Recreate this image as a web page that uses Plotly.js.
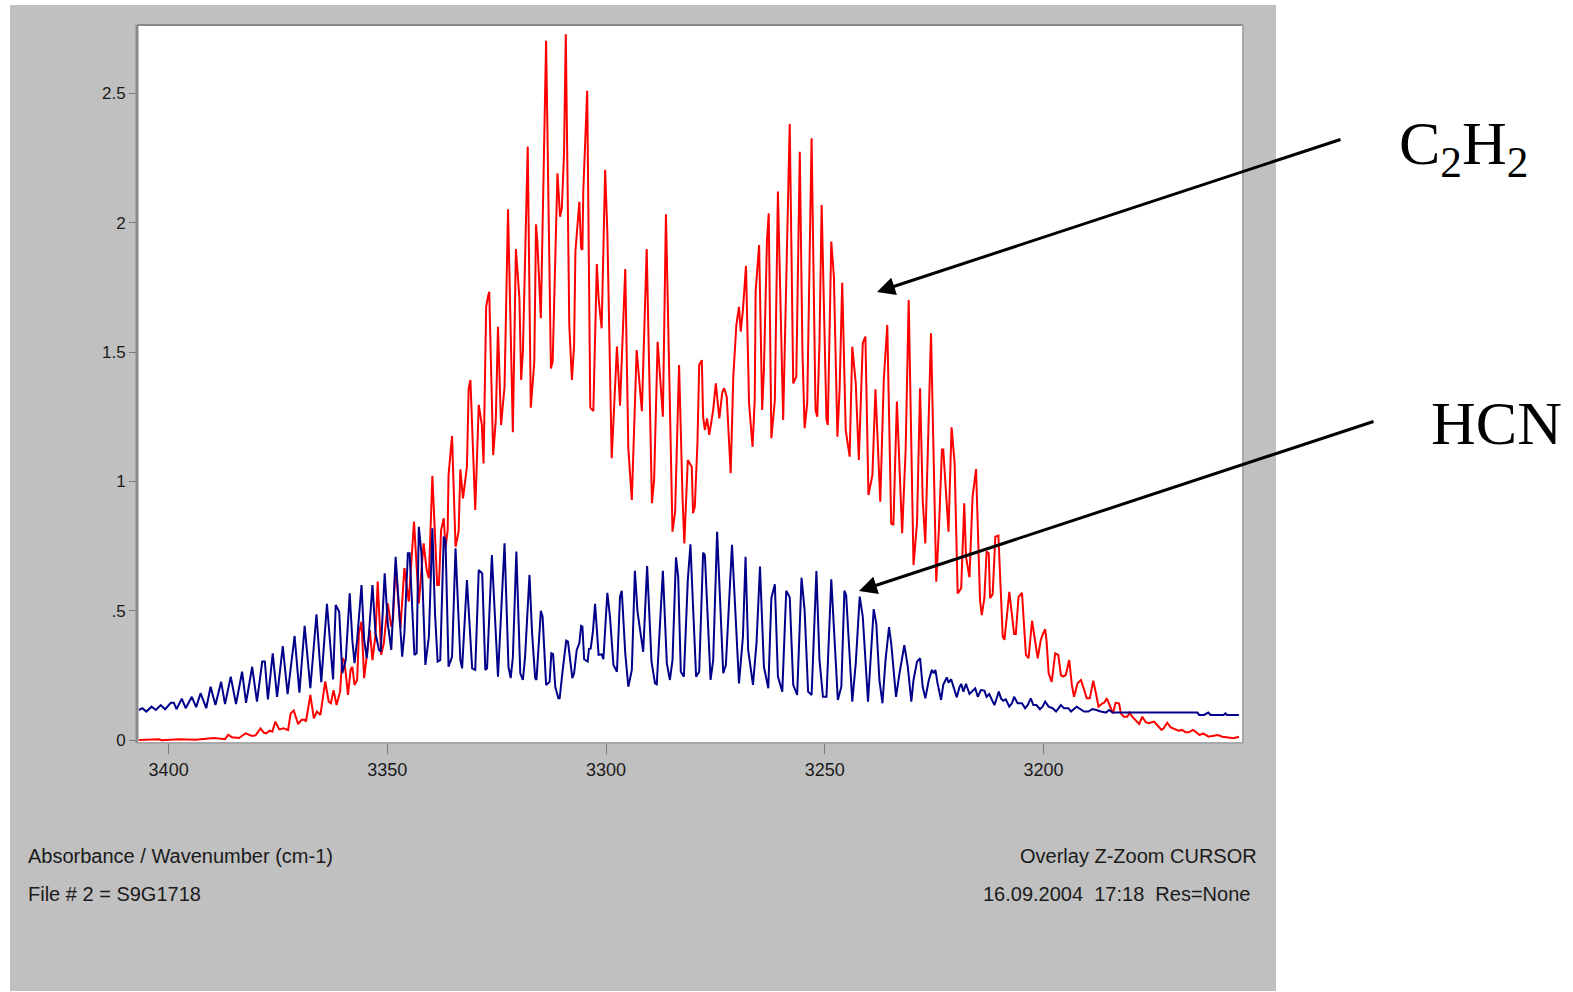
<!DOCTYPE html>
<html>
<head>
<meta charset="utf-8">
<script src="https://cdn.plot.ly/plotly-3.0.1.min.js"></script>
<style>
  html, body { margin: 0; padding: 0; background: #ffffff; }
  #chart { width: 1573px; height: 992px; }
</style>
</head>
<body>
<div id="chart"></div>
<script>
// ---------------- data ----------------
const c2h2_wn = [3406.8,3402.2,3401.6,3397.6,3393.8,3389.6,3387.1,3386.4,3385.5,3383.9,3382.4,3380.9,3380.1,3379.0,3378.2,3377.7,3376.9,3376.3,3375.6,3374.7,3373.7,3372.7,3372.1,3371.4,3370.4,3369.6,3368.9,3368.6,3367.6,3366.8,3366.1,3365.3,3364.2,3363.4,3362.9,3362.3,3361.6,3360.8,3360.3,3359.9,3359.5,3359.0,3358.4,3358.0,3357.5,3356.9,3356.5,3355.9,3355.3,3354.7,3354.0,3353.4,3352.7,3352.2,3351.4,3350.8,3349.9,3349.1,3348.7,3348.1,3347.0,3346.1,3345.1,3343.9,3342.8,3341.7,3341.0,3340.5,3339.7,3338.6,3338.2,3337.7,3337.1,3336.7,3336.2,3336.0,3335.2,3334.4,3333.7,3333.3,3332.7,3331.8,3331.4,3331.0,3330.4,3329.9,3329.1,3328.4,3328.0,3327.4,3327.0,3326.7,3325.8,3325.2,3324.7,3324.0,3323.2,3322.4,3321.3,3320.6,3319.8,3319.4,3319.0,3317.9,3317.2,3316.4,3316.0,3315.7,3314.9,3313.7,3312.6,3312.2,3311.1,3310.5,3310.1,3309.6,3309.2,3308.4,3307.8,3307.3,3307.0,3306.1,3305.7,3305.4,3305.2,3304.3,3303.6,3302.9,3302.1,3301.7,3301.0,3300.2,3299.7,3298.7,3297.5,3296.8,3295.6,3294.9,3294.1,3293.0,3291.8,3290.7,3289.5,3289.0,3288.2,3287.0,3286.3,3284.8,3284.2,3283.3,3282.5,3282.1,3281.3,3280.7,3280.4,3280.1,3279.7,3279.1,3278.7,3278.1,3277.8,3277.4,3276.9,3276.4,3275.5,3274.9,3274.1,3273.4,3273.0,3272.4,3271.5,3270.9,3270.2,3269.6,3269.2,3268.7,3268.0,3267.3,3266.5,3266.0,3265.8,3265.0,3264.3,3263.9,3263.2,3262.8,3262.2,3261.4,3260.7,3259.5,3258.8,3258.0,3257.2,3256.5,3255.7,3255.1,3254.6,3254.0,3253.0,3252.1,3251.7,3251.2,3250.7,3249.6,3249.3,3248.5,3247.9,3247.1,3246.6,3246.0,3245.2,3244.3,3243.7,3242.9,3242.2,3241.3,3240.7,3240.0,3239.1,3238.4,3237.3,3236.5,3235.7,3234.8,3234.3,3233.5,3232.3,3231.5,3230.8,3229.7,3228.9,3228.2,3227.6,3227.0,3225.7,3224.5,3223.9,3223.2,3222.9,3221.7,3221.0,3220.3,3219.6,3218.8,3218.1,3217.7,3216.9,3216.2,3215.4,3214.5,3214.1,3213.5,3213.0,3212.5,3212.2,3211.6,3211.0,3210.3,3209.3,3208.9,3207.8,3206.7,3206.3,3205.7,3204.9,3204.0,3203.4,3202.6,3201.3,3200.6,3200.2,3199.6,3199.3,3198.8,3198.1,3197.3,3196.6,3196.0,3195.5,3194.9,3194.1,3193.5,3193.0,3192.2,3191.4,3190.7,3190.1,3189.4,3188.6,3188.0,3187.4,3186.5,3186.1,3185.5,3184.8,3184.1,3183.5,3182.7,3182.3,3181.6,3180.8,3180.3,3179.7,3178.9,3178.1,3177.4,3176.6,3175.9,3174.7,3174.0,3173.0,3172.5,3171.7,3170.9,3170.0,3169.1,3168.3,3167.5,3166.8,3165.8,3165.2,3164.3,3163.5,3162.9,3162.2,3161.4,3160.1,3159.1,3157.6,3156.5,3155.3];
const c2h2_abs = [0.001,0.004,0.000,0.004,0.002,0.009,0.004,0.021,0.012,0.009,0.027,0.017,0.019,0.046,0.029,0.027,0.037,0.033,0.072,0.042,0.046,0.039,0.104,0.115,0.063,0.079,0.079,0.072,0.175,0.085,0.111,0.098,0.227,0.149,0.143,0.194,0.136,0.188,0.317,0.310,0.259,0.175,0.272,0.284,0.214,0.233,0.413,0.458,0.240,0.336,0.426,0.310,0.407,0.613,0.330,0.375,0.529,0.439,0.465,0.677,0.433,0.665,0.536,0.845,0.529,0.761,0.658,0.626,1.022,0.600,0.600,0.813,0.858,0.742,0.813,1.025,1.176,0.748,0.806,1.047,0.935,1.057,1.360,1.392,1.070,0.890,1.296,1.220,1.070,1.675,1.714,1.733,1.102,1.238,1.598,1.218,1.366,2.052,1.190,1.898,1.708,1.392,1.502,2.294,1.285,1.463,1.994,1.927,1.631,2.703,1.437,1.463,2.191,2.023,2.056,2.268,2.728,1.605,1.392,1.527,1.888,2.081,1.901,1.895,2.120,2.510,1.285,1.272,1.840,1.708,1.592,2.204,1.965,1.090,1.521,1.293,1.821,1.128,0.929,1.508,1.272,1.898,0.916,1.006,1.540,1.250,2.033,0.806,0.883,1.450,0.935,0.761,1.083,1.064,1.057,0.877,0.903,1.148,1.450,1.469,1.250,1.199,1.244,1.180,1.276,1.379,1.244,1.347,1.360,1.328,1.032,1.405,1.605,1.675,1.579,1.663,1.833,1.302,1.134,1.315,1.733,1.914,1.276,1.431,1.933,2.036,1.167,1.315,2.120,1.238,1.791,2.381,1.379,1.405,2.274,1.508,1.206,1.302,2.326,1.276,1.250,1.534,2.068,1.238,1.218,1.927,1.791,1.173,1.354,1.768,1.199,1.096,1.521,1.379,1.083,1.534,1.560,0.948,1.025,1.356,0.922,1.392,1.605,0.838,0.832,1.309,0.800,1.122,1.701,0.677,0.838,1.360,0.929,0.761,1.573,0.613,0.813,1.124,1.124,0.806,1.209,1.070,0.567,0.587,0.916,0.709,0.630,0.941,1.048,0.542,0.484,0.549,0.729,0.723,0.549,0.565,0.787,0.791,0.400,0.388,0.574,0.411,0.411,0.553,0.570,0.330,0.317,0.462,0.317,0.388,0.407,0.429,0.388,0.259,0.226,0.336,0.330,0.252,0.246,0.252,0.310,0.214,0.168,0.220,0.233,0.194,0.162,0.162,0.230,0.182,0.130,0.143,0.145,0.162,0.130,0.104,0.145,0.143,0.104,0.091,0.091,0.107,0.091,0.078,0.063,0.091,0.070,0.066,0.072,0.059,0.040,0.046,0.068,0.050,0.043,0.037,0.040,0.031,0.031,0.040,0.033,0.020,0.027,0.020,0.014,0.017,0.020,0.014,0.012,0.008,0.014];

const hcn_wn = [3406.8,3406.0,3405.1,3403.9,3402.9,3401.8,3400.8,3399.5,3398.8,3398.2,3397.0,3396.1,3394.7,3393.7,3392.7,3391.4,3390.4,3389.3,3388.0,3387.1,3385.8,3384.6,3383.2,3382.3,3380.9,3379.8,3378.6,3378.0,3377.3,3376.2,3375.2,3373.9,3372.8,3371.2,3370.1,3368.9,3367.6,3366.2,3365.1,3363.8,3362.4,3361.8,3361.0,3360.3,3359.5,3358.6,3358.0,3357.5,3356.9,3355.9,3355.3,3354.7,3354.2,3353.4,3352.7,3351.9,3351.5,3350.6,3349.9,3349.1,3348.1,3347.4,3346.6,3346.1,3345.3,3344.9,3344.3,3343.8,3343.3,3342.8,3342.2,3341.3,3340.5,3339.7,3339.1,3338.5,3337.9,3337.1,3336.7,3336.0,3335.2,3334.4,3333.3,3332.9,3331.8,3330.6,3329.9,3329.1,3328.3,3327.6,3327.2,3326.1,3324.7,3323.2,3322.3,3321.8,3321.3,3320.5,3319.6,3319.0,3318.5,3317.5,3316.9,3316.2,3315.9,3314.9,3314.5,3313.7,3312.9,3312.5,3312.1,3311.6,3310.9,3310.6,3309.9,3309.1,3308.7,3307.7,3307.3,3306.7,3306.1,3305.7,3305.4,3305.0,3304.2,3303.9,3303.5,3303.0,3302.5,3301.7,3301.0,3300.6,3299.7,3299.1,3298.3,3297.5,3296.8,3296.4,3295.6,3294.9,3294.1,3293.4,3292.8,3291.5,3290.6,3289.6,3288.8,3288.4,3287.0,3286.1,3285.4,3284.8,3284.0,3283.5,3282.9,3282.2,3281.3,3280.7,3280.1,3279.4,3278.7,3277.8,3277.4,3276.1,3275.5,3274.6,3273.2,3272.6,3271.2,3269.6,3268.7,3268.1,3267.5,3266.4,3265.6,3264.8,3263.9,3262.9,3262.2,3261.4,3260.7,3259.7,3258.8,3258.0,3257.2,3256.3,3255.3,3254.6,3253.8,3253.0,3251.9,3251.2,3250.4,3249.6,3248.5,3247.7,3247.0,3246.2,3245.5,3245.1,3243.7,3242.9,3242.0,3241.3,3240.1,3238.8,3238.2,3237.5,3236.8,3236.1,3235.3,3234.8,3233.7,3232.9,3231.8,3231.0,3230.2,3229.7,3228.9,3228.2,3227.6,3227.0,3226.2,3225.5,3225.1,3224.7,3224.2,3223.4,3222.9,3222.1,3221.7,3221.1,3220.4,3219.8,3219.2,3218.8,3218.3,3217.7,3216.9,3216.3,3215.6,3215.0,3214.3,3213.5,3213.0,3212.4,3211.7,3211.2,3210.2,3209.7,3209.2,3208.6,3207.8,3207.2,3206.7,3205.9,3204.9,3204.2,3203.6,3202.9,3202.3,3201.6,3200.8,3200.2,3199.6,3198.8,3197.9,3197.1,3196.0,3195.3,3194.3,3193.7,3192.4,3191.4,3190.7,3189.7,3188.8,3187.9,3186.9,3185.7,3185.0,3184.2,3181.2,3164.8,3164.4,3163.3,3162.3,3161.8,3158.8,3158.4,3158.0,3155.3];
const hcn_abs = [0.117,0.124,0.111,0.130,0.117,0.136,0.120,0.145,0.145,0.120,0.161,0.124,0.168,0.128,0.182,0.124,0.207,0.136,0.226,0.140,0.246,0.140,0.265,0.145,0.284,0.149,0.304,0.304,0.158,0.336,0.168,0.364,0.178,0.403,0.184,0.442,0.201,0.487,0.225,0.527,0.235,0.523,0.497,0.259,0.310,0.568,0.388,0.298,0.388,0.600,0.388,0.317,0.413,0.600,0.413,0.349,0.342,0.645,0.452,0.349,0.709,0.542,0.323,0.413,0.723,0.723,0.478,0.330,0.336,0.825,0.723,0.291,0.400,0.819,0.491,0.304,0.310,0.787,0.774,0.284,0.323,0.742,0.310,0.278,0.619,0.278,0.272,0.658,0.645,0.272,0.278,0.716,0.246,0.761,0.284,0.240,0.320,0.729,0.259,0.233,0.323,0.639,0.413,0.240,0.233,0.500,0.478,0.214,0.226,0.336,0.333,0.207,0.162,0.162,0.272,0.385,0.381,0.240,0.259,0.349,0.375,0.442,0.439,0.313,0.304,0.353,0.355,0.420,0.527,0.330,0.332,0.313,0.570,0.478,0.291,0.265,0.555,0.578,0.336,0.207,0.272,0.655,0.497,0.342,0.673,0.304,0.220,0.216,0.655,0.298,0.233,0.310,0.707,0.632,0.265,0.246,0.619,0.757,0.516,0.246,0.265,0.725,0.716,0.233,0.310,0.806,0.259,0.291,0.755,0.220,0.400,0.709,0.349,0.214,0.375,0.671,0.284,0.201,0.549,0.603,0.246,0.188,0.578,0.553,0.214,0.175,0.628,0.503,0.188,0.175,0.654,0.310,0.168,0.168,0.622,0.362,0.156,0.207,0.578,0.561,0.149,0.298,0.555,0.478,0.149,0.507,0.450,0.233,0.143,0.310,0.437,0.375,0.168,0.259,0.368,0.284,0.149,0.233,0.304,0.317,0.207,0.162,0.233,0.272,0.259,0.272,0.220,0.156,0.214,0.243,0.223,0.236,0.194,0.166,0.205,0.218,0.188,0.218,0.179,0.188,0.201,0.168,0.194,0.192,0.168,0.179,0.153,0.136,0.188,0.162,0.153,0.158,0.130,0.143,0.168,0.143,0.143,0.124,0.136,0.162,0.136,0.136,0.120,0.130,0.149,0.130,0.124,0.111,0.136,0.124,0.124,0.111,0.130,0.117,0.111,0.111,0.121,0.117,0.111,0.107,0.117,0.107,0.107,0.107,0.098,0.098,0.107,0.098,0.098,0.104,0.098,0.098];

const xTickVals = [3400, 3350, 3300, 3250, 3200];
const xTickText = ['3400', '3350', '3300', '3250', '3200'];
const yTickVals = [0, 0.5, 1, 1.5, 2, 2.5];
const yTickText = ['0', '.5', '1', '1.5', '2', '2.5'];

// ---------------- layout helpers (pixel -> paper) ----------------
const L = 138, T = 26, W = 1104, H = 716;
const px = v => (v - L) / W;
const py = v => (T + H - v) / H;

const sans = 'Liberation Sans, Arial, sans-serif';
const serif = 'Liberation Serif, Times New Roman, serif';

const traces = [
  { x: c2h2_wn, y: c2h2_abs, type: 'scatter', mode: 'lines', name: 'C2H2',
    line: { color: '#ff0000', width: 2 }, hoverinfo: 'x+y' },
  { x: hcn_wn, y: hcn_abs, type: 'scatter', mode: 'lines', name: 'HCN',
    line: { color: '#00008b', width: 2 }, hoverinfo: 'x+y' }
];

const layout = {
  width: 1573, height: 992,
  margin: { l: L, r: 1573 - L - W, t: T, b: 992 - T - H, pad: 0 },
  paper_bgcolor: '#ffffff',
  plot_bgcolor: '#ffffff',
  showlegend: false,
  xaxis: {
    range: [3407.0, 3154.6],
    tickvals: xTickVals, ticktext: xTickText,
    ticks: 'outside', ticklen: 11, tickwidth: 1, tickcolor: '#7a7a7a',
    tickfont: { family: sans, size: 18, color: '#1a1a1a' },
    showgrid: false, zeroline: false, showline: false
  },
  yaxis: {
    range: [-0.0066, 2.760],
    tickvals: yTickVals, ticktext: yTickText,
    ticks: 'outside', ticklen: 8, tickwidth: 1, tickcolor: '#7a7a7a',
    tickfont: { family: sans, size: 17, color: '#1a1a1a' },
    showgrid: false, zeroline: false, showline: false
  },
  shapes: [
    { type: 'rect', xref: 'paper', yref: 'paper', layer: 'below',
      x0: px(10), x1: px(1276), y0: py(991), y1: py(5),
      fillcolor: '#c0c0c0', line: { width: 0 } },
    { type: 'rect', xref: 'paper', yref: 'paper', layer: 'below',
      x0: 0, x1: 1, y0: 0, y1: 1,
      fillcolor: '#ffffff', line: { width: 0 } },
    { type: 'line', xref: 'paper', yref: 'paper', layer: 'above',
      x0: px(L - 1), x1: px(L - 1), y0: py(T + H + 1), y1: py(T - 1),
      line: { color: '#8a8a8a', width: 3 } },
    { type: 'line', xref: 'paper', yref: 'paper', layer: 'above',
      x0: px(L - 1), x1: px(L + W + 1), y0: py(T - 1), y1: py(T - 1),
      line: { color: '#8a8a8a', width: 2 } },
    { type: 'line', xref: 'paper', yref: 'paper', layer: 'above',
      x0: px(L + W + 1), x1: px(L + W + 1), y0: py(T - 1), y1: py(T + H + 1),
      line: { color: '#a8a8a8', width: 2 } },
    { type: 'line', xref: 'paper', yref: 'paper', layer: 'above',
      x0: px(L - 1), x1: px(L + W + 1), y0: py(T + H + 1), y1: py(T + H + 1),
      line: { color: '#a8a8a8', width: 2 } }
  ],
  annotations: [
    { xref: 'paper', yref: 'paper', x: px(26), y: py(856), xanchor: 'left', yanchor: 'middle',
      text: 'Absorbance / Wavenumber (cm-1)', showarrow: false,
      font: { family: sans, size: 20, color: '#1a1a1a' } },
    { xref: 'paper', yref: 'paper', x: px(26), y: py(894), xanchor: 'left', yanchor: 'middle',
      text: 'File # 2 = S9G1718', showarrow: false,
      font: { family: sans, size: 20, color: '#1a1a1a' } },
    { xref: 'paper', yref: 'paper', x: px(1259), y: py(856), xanchor: 'right', yanchor: 'middle',
      text: 'Overlay Z-Zoom CURSOR', showarrow: false,
      font: { family: sans, size: 20, color: '#1a1a1a' } },
    { xref: 'paper', yref: 'paper', x: px(1252), y: py(894), xanchor: 'right', yanchor: 'middle',
      text: '16.09.2004&nbsp;&nbsp;17:18&nbsp;&nbsp;Res=None', showarrow: false,
      font: { family: sans, size: 20, color: '#1a1a1a' } },
    { xref: 'paper', yref: 'paper', x: px(1397), y: py(148), xanchor: 'left', yanchor: 'middle',
      text: 'C<sub>2</sub>H<sub>2</sub>', showarrow: false,
      font: { family: serif, size: 62, color: '#000000' } },
    { xref: 'paper', yref: 'paper', x: px(1429), y: py(423), xanchor: 'left', yanchor: 'middle',
      text: 'HCN', showarrow: false,
      font: { family: serif, size: 62, color: '#000000' } },
    { xref: 'paper', yref: 'paper', x: px(877), y: py(292), text: '',
      showarrow: true, arrowhead: 2, arrowsize: 1.2, arrowwidth: 3, arrowcolor: '#000000',
      ax: 1342 - 877, ay: 139 - 292, standoff: 0 },
    { xref: 'paper', yref: 'paper', x: px(859), y: py(591), text: '',
      showarrow: true, arrowhead: 2, arrowsize: 1.2, arrowwidth: 3, arrowcolor: '#000000',
      ax: 1375 - 859, ay: 421 - 591, standoff: 0 }
  ]
};

Plotly.newPlot('chart', traces, layout, { displayModeBar: false, staticPlot: true });
</script>
</body>
</html>
